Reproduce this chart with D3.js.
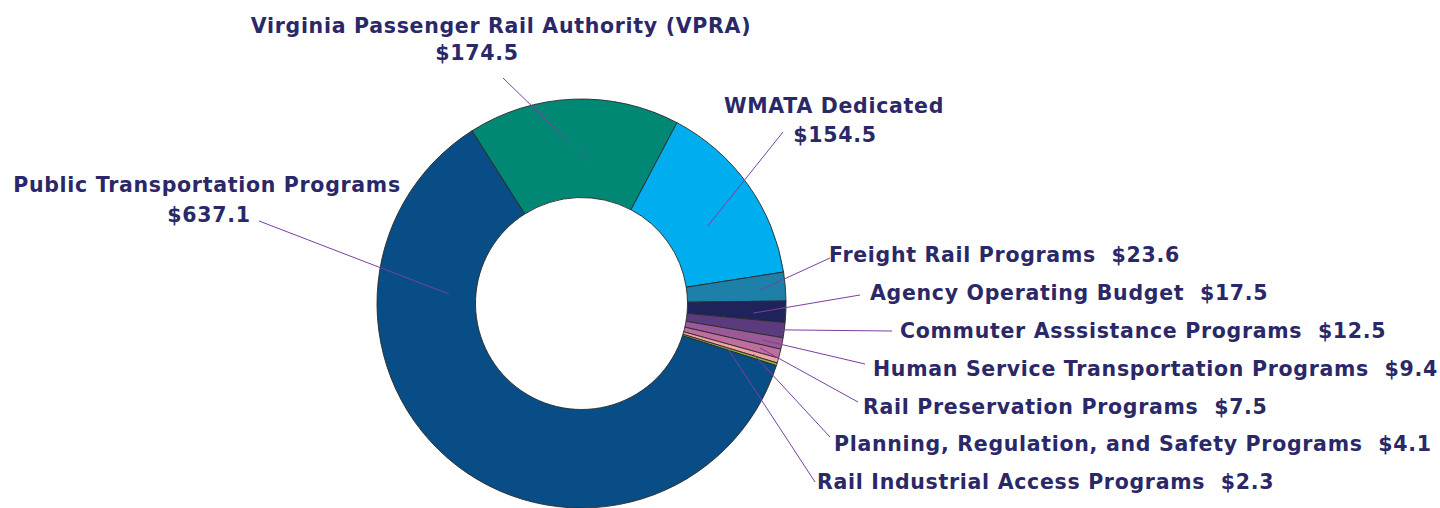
<!DOCTYPE html>
<html>
<head>
<meta charset="utf-8">
<script src="https://cdn.jsdelivr.net/npm/d3@7"></script>
<style>
  html, body { margin: 0; padding: 0; background: #fff; }
  svg text { font-family: "DejaVu Sans", sans-serif; font-weight: bold; fill: #2b2868; white-space: pre; letter-spacing: 0.7px; }
</style>
</head>
<body>
<div id="chart"></div>
<script>
/** Donut chart of program funding (in $ millions). */

// data, clockwise from the top
var programs = [
    "Virginia Passenger Rail Authority (VPRA)",
    "WMATA Dedicated",
    "Freight Rail Programs",
    "Agency Operating Budget",
    "Commuter Asssistance Programs",
    "Human Service Transportation Programs",
    "Rail Preservation Programs",
    "Planning, Regulation, and Safety Programs",
    "Rail Industrial Access Programs",
    "Public Transportation Programs"
];
var amounts = [174.5, 154.5, 23.6, 17.5, 12.5, 9.4, 7.5, 4.1, 2.3, 637.1];
var colors = ["#008874", "#00aeef", "#1c80a9", "#1e2459", "#5b3b7e",
              "#9a5a98", "#c06e9f", "#f3a2aa", "#8fb03c", "#084d86"];

// label layout: text anchor, whether split on two lines, leader line
// (inner point as angle in degrees + radius, outer point in px)
var labelLayout = [
    {x1: 501, y1: 33, x2: 477, y2: 60, two: true, a: 2.6, r: 143, ex: 503, ey: 78},
    {x1: 834, y1: 113, x2: 835, y2: 142, two: true, a: 58.5, r: 148, ex: 783, ey: 132},
    {x1: 829, y1: 262, a: 85.7, r: 179, ex: 830, ey: 258},
    {x1: 870, y1: 300, a: 93.2, r: 172, ex: 860, ey: 295},
    {x1: 900, y1: 338, a: 97.5, r: 202, ex: 892, ey: 331},
    {x1: 873, y1: 376, a: 101.4, r: 184, ex: 865, ey: 364},
    {x1: 863, y1: 414, a: 104.0, r: 184, ex: 858, ey: 402},
    {x1: 834, y1: 451, a: 106.4, r: 179, ex: 830, ey: 437},
    {x1: 817, y1: 489, a: 107.4, r: 154, ex: 815, ey: 482},
    {x1: 207, y1: 192, x2: 209, y2: 222, two: true, a: 274.1, r: 133, ex: 259, ey: 221}
];

var width = 1440, height = 508;
var cx = 581.5, cy = 303.5;
var outerR = 204.5, innerR = 106;
var startDeg = -32.4;

var svg = d3.select("#chart").append("svg")
    .attr("width", width)
    .attr("height", height);

var data = programs.map(function(p, i) {
    return {name: p, v: amounts[i], color: colors[i], lay: labelLayout[i]};
});

var rad = Math.PI / 180;
var pie = d3.pie()
    .sort(null)
    .value(function(d) { return d.v; })
    .startAngle(startDeg * rad)
    .endAngle((startDeg + 360) * rad);

var arc = d3.arc().innerRadius(innerR).outerRadius(outerR);

var g = svg.append("g")
    .attr("transform", "translate(" + cx + "," + cy + ")");

var arcs = pie(data);

g.selectAll(".slice")
    .data(arcs).enter()
    .append("path")
        .attr("class", "slice")
        .attr("d", arc)
        .attr("fill", function(d) { return d.data.color; })
        .attr("stroke", "#2a2a2a")
        .attr("stroke-width", 0.9);

// leader lines
svg.selectAll(".leader")
    .data(arcs).enter()
    .append("line")
        .attr("class", "leader")
        .attr("x1", function(d) { return cx + d.data.lay.r * Math.sin(d.data.lay.a * rad); })
        .attr("y1", function(d) { return cy - d.data.lay.r * Math.cos(d.data.lay.a * rad); })
        .attr("x2", function(d) { return d.data.lay.ex; })
        .attr("y2", function(d) { return d.data.lay.ey; })
        .attr("stroke", "#7b3fa2")
        .attr("stroke-width", 1);

var fmt = function(v) { return "$" + v.toFixed(1); };

// labels
var labels = svg.selectAll(".lbl")
    .data(data).enter()
    .append("g")
        .attr("class", "lbl")
        .style("font-size", "20.5px");

labels.each(function(d) {
    var sel = d3.select(this);
    var L = d.lay;
    if (L.two) {
        sel.append("text")
            .attr("x", L.x1).attr("y", L.y1)
            .attr("text-anchor", "middle")
            .text(d.name);
        sel.append("text")
            .attr("x", L.x2).attr("y", L.y2)
            .attr("text-anchor", "middle")
            .text(fmt(d.v));
    } else {
        sel.append("text")
            .attr("x", L.x1).attr("y", L.y1)
            .text(d.name + "  " + fmt(d.v));
    }
});
</script>
</body>
</html>
